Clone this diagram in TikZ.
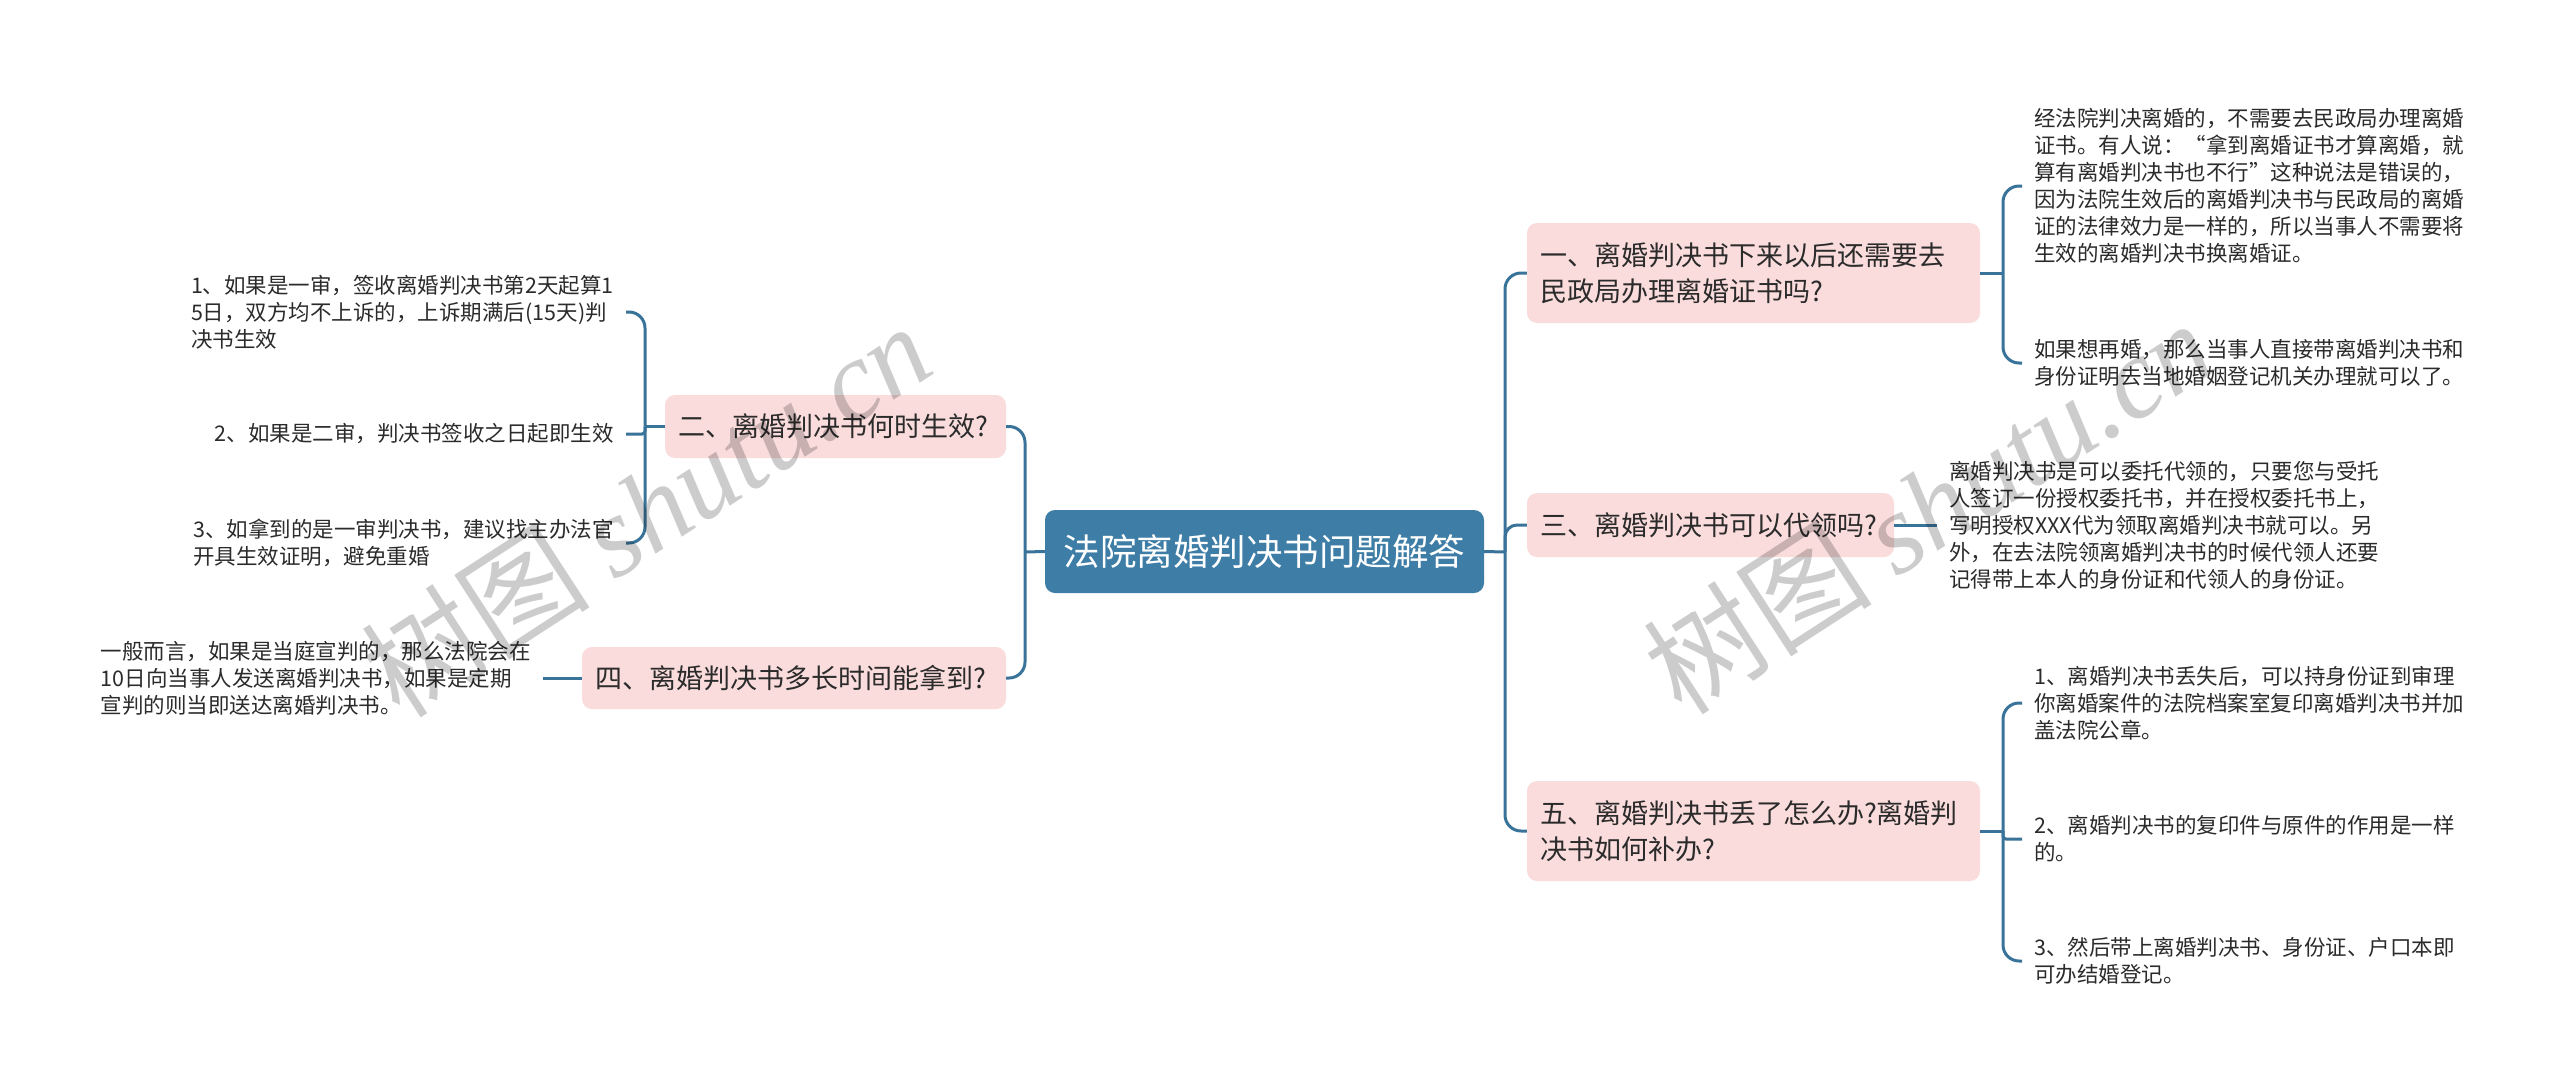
\documentclass[tikz,border=0pt]{standalone}
\usepackage{fontspec}
\setmainfont{Noto Sans CJK SC}
\newfontfamily\wmserif{Liberation Serif}
\definecolor{rootblue}{HTML}{3D7DA6}
\definecolor{lineblue}{HTML}{3A7399}
\definecolor{pinkfill}{HTML}{FADCDC}
\definecolor{txt}{HTML}{2B2B2B}
\tikzset{
  conn/.style={draw=lineblue, line width=3pt, rounded corners=16pt},
  rootbox/.style={fill=rootblue, rounded corners=10pt, text=white, align=center,
    inner sep=0pt, font=\fontsize{36.5}{44}\selectfont},
  branchbox/.style={fill=pinkfill, rounded corners=10pt, text=txt, align=left,
    inner xsep=13pt, inner ysep=0pt, font=\fontsize{27}{36}\selectfont},
  leaftext/.style={text=txt, align=left, inner xsep=12pt, inner ysep=2pt,
    font=\fontsize{21.5}{27}\selectfont},
  wmark/.style={text=black, text opacity=0.2, rotate=33, inner sep=0pt,
    font=\fontsize{115}{115}\selectfont},
}
\begin{document}
\begin{tikzpicture}[x=1pt,y=-1pt]
\fill[white] (0,0) rectangle (2560,1090);
\useasboundingbox (0,0) rectangle (2560,1090);

% root
\node[rootbox, minimum width=439pt, minimum height=83pt] (root) at (1264.5,551.5) {法院离婚判决书问题解答};

% branches
\node[branchbox, text width=427pt, minimum height=100pt] (b1) at (1753.5,273) {一、离婚判决书下来以后还需要去\\民政局办理离婚证书吗?};
\node[branchbox, text width=341pt, minimum height=64pt] (b3) at (1710.5,525) {三、离婚判决书可以代领吗?};
\node[branchbox, text width=427pt, minimum height=100pt] (b5) at (1753.5,831) {五、离婚判决书丢了怎么办?离婚判\\决书如何补办?};
\node[branchbox, text width=315pt, minimum height=63pt] (b2) at (835.5,426.5) {二、离婚判决书何时生效?};
\node[branchbox, text width=398pt, minimum height=62pt] (b4) at (794,678) {四、离婚判决书多长时间能拿到?};

% leaves right
\node[leaftext, anchor=west] (l1a) at (2022,186) {经法院判决离婚的，不需要去民政局办理离婚\\证书。有人说：“拿到离婚证书才算离婚，就\\算有离婚判决书也不行”这种说法是错误的，\\因为法院生效后的离婚判决书与民政局的离婚\\证的法律效力是一样的，所以当事人不需要将\\生效的离婚判决书换离婚证。};
\node[leaftext, anchor=west] (l1b) at (2022,363) {如果想再婚，那么当事人直接带离婚判决书和\\身份证明去当地婚姻登记机关办理就可以了。};
\node[leaftext, anchor=west] (l3) at (1937,525) {离婚判决书是可以委托代领的，只要您与受托\\人签订一份授权委托书，并在授权委托书上，\\写明授权XXX代为领取离婚判决书就可以。另\\外，在去法院领离婚判决书的时候代领人还要\\记得带上本人的身份证和代领人的身份证。};
\node[leaftext, anchor=west] (l51) at (2022,703) {1、离婚判决书丢失后，可以持身份证到审理\\你离婚案件的法院档案室复印离婚判决书并加\\盖法院公章。};
\node[leaftext, anchor=west] (l52) at (2022,839) {2、离婚判决书的复印件与原件的作用是一样\\的。};
\node[leaftext, anchor=west] (l53) at (2022,961) {3、然后带上离婚判决书、身份证、户口本即\\可办结婚登记。};

% leaves left
\node[leaftext, anchor=east] (l21) at (626,312) {1、如果是一审，签收离婚判决书第2天起算1\\5日，双方均不上诉的，上诉期满后(15天)判\\决书生效};
\node[leaftext, anchor=east] (l22) at (626,434) {2、如果是二审，判决书签收之日起即生效};
\node[leaftext, anchor=east] (l23) at (626,543) {3、如拿到的是一审判决书，建议找主办法官\\开具生效证明，避免重婚};
\node[leaftext, anchor=east] (l4) at (543,678) {一般而言，如果是当庭宣判的，那么法院会在\\10日向当事人发送离婚判决书，如果是定期\\宣判的则当即送达离婚判决书。};

% junctions
\coordinate (rj) at (1505,552);
\coordinate (lj) at (1025,552);
\coordinate (j1) at (2003,273);
\coordinate (j5) at (2003,831);
\coordinate (j2) at (645,426.5);

% connectors
\draw[conn] (root.east) -- (rj);
\draw[conn] (rj) |- (b1.west);
\draw[conn, rounded corners=12pt] (rj) |- (b3.west);
\draw[conn] (rj) |- (b5.west);
\draw[conn] (root.west) -- (lj);
\draw[conn] (lj) |- (b2.east);
\draw[conn] (lj) |- (b4.east);

\draw[conn] (b1.east) -- (j1);
\draw[conn] (j1) |- (l1a.west);
\draw[conn] (j1) |- (l1b.west);

\draw[conn] (b3.east) -- (l3.west);

\draw[conn] (b5.east) -- (j5);
\draw[conn] (j5) |- (l51.west);
\draw[conn, rounded corners=3pt] (j5) |- (l52.west);
\draw[conn] (j5) |- (l53.west);

\draw[conn] (b2.west) -- (j2);
\draw[conn] (j2) |- (l21.east);
\draw[conn, rounded corners=3pt] (j2) |- (l22.east);
\draw[conn] (j2) |- (l23.east);

\draw[conn] (b4.west) -- (l4.east);

% watermarks
\node[wmark] (wm1) at (646,509) {树图 {\wmserif\itshape shutu.cn}};
\node[wmark] (wm2) at (1928,506) {树图 {\wmserif\itshape shutu.cn}};
\end{tikzpicture}
\end{document}
